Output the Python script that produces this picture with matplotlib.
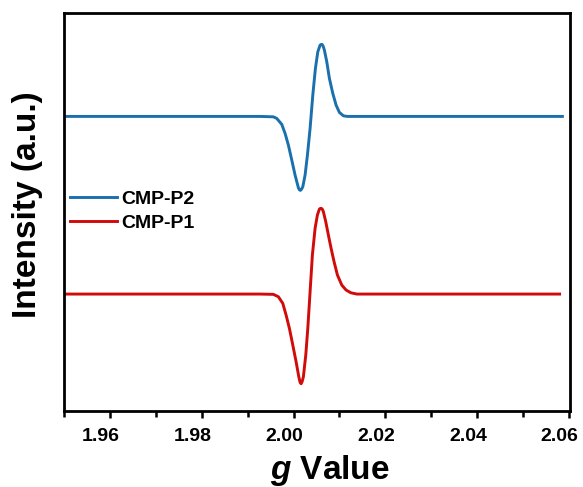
import matplotlib
matplotlib.use("Agg")
import matplotlib.pyplot as plt
import matplotlib.transforms as mtransforms
from matplotlib.ticker import MultipleLocator

plt.rcParams['font.family'] = ['Liberation Sans', 'DejaVu Sans']
plt.rcParams['font.weight'] = 'bold'
plt.rcParams['mathtext.fontset'] = 'custom'
plt.rcParams['mathtext.rm'] = 'Liberation Sans:bold'
plt.rcParams['mathtext.bf'] = 'Liberation Sans:bold'
plt.rcParams['mathtext.it'] = 'Liberation Sans:italic:bold'
plt.rcParams['mathtext.bfit'] = 'Liberation Sans:italic:bold'

# CMP-P2 spectrum (g value, intensity a.u.)
g_p2 = [1.9500, 1.99271, 1.99561, 1.99635, 1.99744, 1.99816, 1.99888, 1.99962,
        2.00034, 2.00106, 2.00128, 2.00150, 2.00172, 2.00202, 2.00252, 2.00303,
        2.00361, 2.00420, 2.00477, 2.00529, 2.00579, 2.00601, 2.00623, 2.00645,
        2.00673, 2.00725, 2.00782, 2.00856, 2.00928, 2.01000, 2.01087, 2.01175,
        2.0586]
i_p2 = [294.7, 294.7, 294.3, 292.7, 286.7, 277.7, 266.0, 251.0,
        236.0, 223.3, 221.3, 220.7, 221.7, 224.3, 236.0, 256.0,
        282.7, 316.0, 342.7, 359.3, 366.0, 366.7, 366.7, 365.0,
        361.0, 349.3, 332.7, 317.7, 306.0, 298.7, 295.3, 294.7,
        294.7]

# CMP-P1 spectrum
g_p1 = [1.9500, 1.99271, 1.99561, 1.99670, 1.99766, 1.99838, 1.99910, 1.99984,
        2.00056, 2.00115, 2.00143, 2.00165, 2.00187, 2.00215, 2.00267, 2.00311,
        2.00361, 2.00411, 2.00470, 2.00520, 2.00564, 2.00586, 2.00608, 2.00630,
        2.00651, 2.00703, 2.00760, 2.00819, 2.00884, 2.00957, 2.01052, 2.01146,
        2.01249, 2.01380, 2.0580]
i_p1 = [117.0, 117.0, 116.7, 114.3, 107.7, 96.0, 82.7, 66.0,
        49.3, 34.3, 28.7, 27.3, 29.3, 34.3, 56.0, 82.7,
        119.3, 156.0, 182.7, 196.0, 202.0, 202.7, 202.7, 201.7,
        199.3, 189.3, 176.0, 162.7, 149.3, 136.0, 126.0, 121.0,
        118.3, 117.0, 117.0]

tick_vals = [1.96, 1.98, 2.00, 2.02, 2.04, 2.06]
tick_labels = ['1.96', '1.98', '2.00', '2.02', '2.04', '2.06']

fig = plt.figure(figsize=(5.83, 4.87), dpi=100)
ax = fig.add_axes([0.110, 0.156, 0.868, 0.817])

ax.plot(g_p2, i_p2, color='#1a6fad', lw=2.1, label='CMP-P2')
ax.plot(g_p1, i_p1, color='#d10a0a', lw=2.1, label='CMP-P1')

ax.set_xlim(1.95, 2.0603)
ax.set_ylim(0, 398)
ax.xaxis.set_minor_locator(MultipleLocator(0.01))
ax.set_xticks(tick_vals)
ax.set_xticklabels(tick_labels)
ax.set_yticks([])
ax.tick_params(axis='x', which='major', direction='out', length=5, width=1.8,
               labelsize=14, pad=7)
ax.tick_params(axis='x', which='minor', direction='out', length=4, width=1.8)
for sp in ax.spines.values():
    sp.set_linewidth(2.0)

# labels sit a little left of their ticks, as in the original
shift = mtransforms.ScaledTranslation(-0.09, 0, fig.dpi_scale_trans)
for lbl in ax.xaxis.get_majorticklabels():
    lbl.set_transform(lbl.get_transform() + shift)

ax.set_xlabel(r'$\bfit{g}$ Value', fontsize=24, fontweight='bold')
ax.xaxis.set_label_coords(0.526, -0.105)
ax.set_ylabel('Intensity (a.u.)', fontsize=24, fontweight='bold')
ax.yaxis.set_label_coords(-0.042, 0.518)

ax.legend(loc='upper left', bbox_to_anchor=(0.012, 0.555), frameon=False,
          fontsize=14, handlelength=2.4, handletextpad=0.25, labelspacing=0.32,
          borderpad=0, borderaxespad=0)

fig.savefig('out.png', dpi=100)
